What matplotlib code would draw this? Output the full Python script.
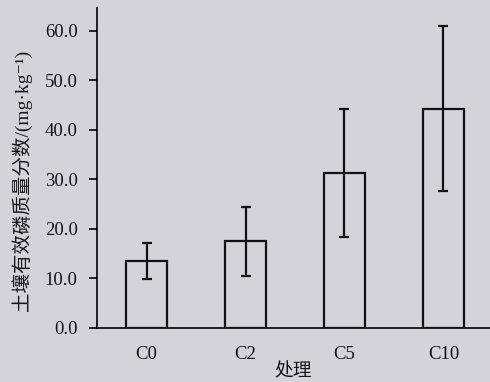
import matplotlib
matplotlib.use("Agg")
import matplotlib.pyplot as plt

categories = ["C0", "C2", "C5", "C10"]
values = [13.5, 17.5, 31.3, 44.3]
errors = [3.6, 7.0, 13.0, 16.6]
yticks = [0, 10, 20, 30, 40, 50, 60]

bg = "#d4d4d8"
serif = ["Liberation Serif", "Noto Sans CJK SC", "DejaVu Serif"]

fig = plt.figure(figsize=(4.9, 3.82), dpi=100, facecolor=bg)
ax = fig.add_axes([0.198, 0.1414, 0.802, 0.8377], facecolor=bg)

x = list(range(len(categories)))
ax.bar(x, values, width=0.41, facecolor="none", edgecolor="#111111", linewidth=1.6)
ax.errorbar(x, values, yerr=errors, fmt="none", ecolor="#111111", elinewidth=1.6,
            capsize=3.5, capthick=1.6)

ax.set_xlim(-0.5, 3.47)
ax.set_ylim(0, 64.6)
ax.set_yticks(yticks)
ax.set_yticklabels([f"{v:.1f}" for v in yticks], fontfamily=serif, fontsize=13.5, color="#151515")
ax.set_xticks(x)
ax.set_xticklabels(categories, fontfamily=serif, fontsize=13.5, color="#151515")
ax.tick_params(axis="x", length=0, pad=13)
ax.tick_params(axis="y", direction="out", length=6, width=1.2, pad=8)

for s in ["top", "right"]:
    ax.spines[s].set_visible(False)
for s in ["left", "bottom"]:
    ax.spines[s].set_linewidth(1.3)
    ax.spines[s].set_color("#111111")

ax.set_ylabel("土壤有效磷质量分数/(mg·kg⁻¹)", fontfamily=serif, fontsize=14, color="#151515")
ax.yaxis.set_label_coords(-0.166, 0.46)
ax.set_xlabel("处理", fontfamily=serif, fontsize=13.5, color="#151515", labelpad=0)

fig.savefig("out.png", dpi=100, facecolor=bg)
